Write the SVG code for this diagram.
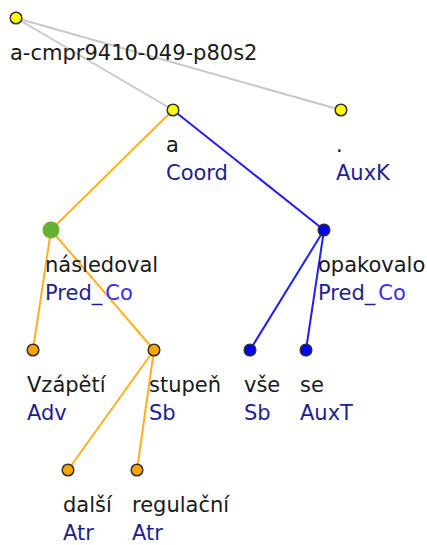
<svg xmlns="http://www.w3.org/2000/svg" width="427" height="545" viewBox="0 0 427 545">
<style>
.e{fill:none;stroke-width:2;stroke-linecap:round}
.g{stroke:#c8c8c8}
.o{stroke:#ffb020}
.b{stroke:#2020f0}
.n{stroke:#303030;stroke-width:1.5}
.y{fill:#ffff00}
.or{fill:#ffa500}
.bl{fill:#0000ff}
text{font-family:"DejaVu Sans",Verdana,sans-serif;font-size:21px}
.w{fill:#1a1a1a}
.f{fill:#1e1e8c}
.c{fill:#3a2cf0}
</style>
<rect width="427" height="545" fill="#ffffff"/>
<g id="connectors">
<line class="e g" x1="16" y1="18" x2="173" y2="110"/>
<line class="e g" x1="16" y1="18" x2="341" y2="110"/>
<line class="e o" x1="173" y1="110" x2="51" y2="230"/>
<line class="e b" x1="173" y1="110" x2="324" y2="230"/>
<line class="e o" x1="51" y1="230" x2="33" y2="350"/>
<line class="e o" x1="51" y1="230" x2="154" y2="350"/>
<line class="e b" x1="324" y1="230" x2="250" y2="350"/>
<line class="e b" x1="324" y1="230" x2="306" y2="350"/>
<line class="e o" x1="154" y1="350" x2="68" y2="470"/>
<line class="e o" x1="154" y1="350" x2="137" y2="470"/>
</g>
<g id="root">
<circle class="n y" cx="16" cy="18" r="5.8"/>
<text class="w" x="10" y="60">a-cmpr9410-049-p80s2</text>
</g>
<g id="n_a">
<circle class="n y" cx="173" cy="110" r="5.8"/>
<text class="w" x="166" y="152">a</text>
<text class="f" x="166" y="180">Coord</text>
</g>
<g id="n_dot">
<circle class="n y" cx="341" cy="110" r="5.8"/>
<text class="w" x="336" y="152">.</text>
<text class="f" x="336" y="180">AuxK</text>
</g>
<g id="n_nasledoval">
<circle fill="#66b032" cx="51" cy="230" r="8.5"/>
<text class="w" x="45" y="272">následoval</text>
<text x="45" y="300"><tspan class="f">Pred_</tspan><tspan class="c" dx="3">Co</tspan></text>
</g>
<g id="n_opakovalo">
<circle class="n bl" cx="324" cy="230" r="5.8"/>
<text class="w" x="318" y="272">opakovalo</text>
<text x="318" y="300"><tspan class="f">Pred_</tspan><tspan class="c" dx="3">Co</tspan></text>
</g>
<g id="n_vzapeti">
<circle class="n or" cx="33" cy="350" r="5.8"/>
<text class="w" x="27" y="392">Vzápětí</text>
<text class="f" x="27" y="420">Adv</text>
</g>
<g id="n_stupen">
<circle class="n or" cx="154" cy="350" r="5.8"/>
<text class="w" x="149" y="392">stupeň</text>
<text class="f" x="149" y="420">Sb</text>
</g>
<g id="n_vse">
<circle class="n bl" cx="250" cy="350" r="5.8"/>
<text class="w" x="244" y="392">vše</text>
<text class="f" x="244" y="420">Sb</text>
</g>
<g id="n_se">
<circle class="n bl" cx="306" cy="350" r="5.8"/>
<text class="w" x="300" y="392">se</text>
<text class="f" x="300" y="420">AuxT</text>
</g>
<g id="n_dalsi">
<circle class="n or" cx="68" cy="470" r="5.8"/>
<text class="w" x="63" y="512">další</text>
<text class="f" x="63" y="540">Atr</text>
</g>
<g id="n_regulacni">
<circle class="n or" cx="137" cy="470" r="5.8"/>
<text class="w" x="132" y="512">regulační</text>
<text class="f" x="132" y="540">Atr</text>
</g>
</svg>
